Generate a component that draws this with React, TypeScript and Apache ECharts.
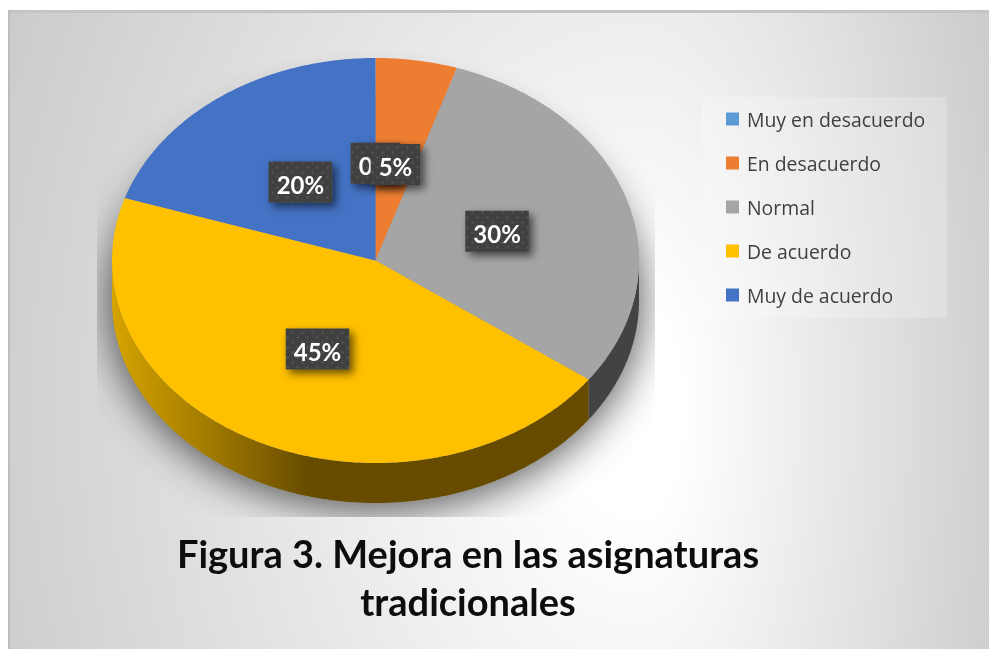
import React, { useEffect, useRef } from "react";
import * as echarts from "echarts";

const categories = ["Muy en desacuerdo", "En desacuerdo", "Normal", "De acuerdo", "Muy de acuerdo"];
const percentages = [0, 5, 30, 45, 20];
const faceColors = ["#5B9BD5", "#ED7D31", "#A5A5A5", "#FFC000", "#4472C4"];
const sideColors = ["#2E5F8C", "#8A4A1C", "#434343", "#664B00", "#2A4678"];
const titleText = "Figura 3. Mejora en las asignaturas\ntradicionales";

const CX = 375.5, CY = 260.5, RX = 263.5, RY = 202.5, DEPTH = 40;
const LABEL_FONT = "bold 24px Lato";
const BOX_H = 41;

const total = percentages.reduce((a, b) => a + b, 0);
const rad = (deg: number) => (deg * Math.PI) / 180;
const pt = (deg: number, f = 1, dy = 0): number[] => [
  CX + RX * f * Math.sin(rad(deg)),
  CY - RY * f * Math.cos(rad(deg)) + dy,
];
const arc = (from: number, to: number, dy = 0): number[][] => {
  const out: number[][] = [];
  const n = Math.max(1, Math.ceil((to - from) / 0.5));
  for (let i = 0; i <= n; i++) out.push(pt(from + ((to - from) * i) / n, 1, dy));
  return out;
};

const measure = (s: string): number => {
  const c = document.createElement("canvas").getContext("2d");
  if (!c) return s.length * 13;
  c.font = LABEL_FONT;
  return c.measureText(s).width;
};

const dots =
  "data:image/svg+xml;utf8," +
  encodeURIComponent(
    '<svg xmlns="http://www.w3.org/2000/svg" width="10" height="10"><circle cx="2.5" cy="2.5" r="1.2" fill="#535353"/><circle cx="7.5" cy="7.5" r="1.2" fill="#535353"/></svg>'
  );

const startOf = (idx: number) => (percentages.slice(0, idx).reduce((a, b) => a + b, 0) / total) * 360;

const sliceRender = (idx: number) => (_p: any, api: any) => {
  const a0 = startOf(idx);
  const a1 = a0 + (api.value(0) / total) * 360;
  const children: any[] = [];
  const s0 = Math.max(a0, 90), s1 = Math.min(a1, 270);
  if (s1 > s0) {
    const upper = arc(s0, s1);
    const lower = arc(s0, s1, DEPTH).reverse();
    const fill =
      idx === 3
        ? new echarts.graphic.LinearGradient(CX - RX, 0, 310, 0, [
            { offset: 0, color: "#D6A300" },
            { offset: 0.45, color: "#A67E00" },
            { offset: 1, color: sideColors[idx] },
          ], true)
        : sideColors[idx];
    children.push({ type: "polygon", shape: { points: upper.concat(lower) }, style: { fill } });
  }
  if (a1 > a0) {
    children.push({
      type: "polygon",
      shape: { points: [[CX, CY] as number[]].concat(arc(a0, a1)) },
      style: { fill: faceColors[idx] },
    });
  }
  const mid = (a0 + a1) / 2;
  const [lx, ly0] = pt(mid, 0.485);
  const ly = ly0 + 1;
  const txt = `${api.value(0)}%`;
  const w = measure(txt) + 16;
  const bx = lx - w / 2, by = ly - BOX_H / 2;
  const z2 = 20 + idx * 3;
  children.push({
    type: "rect", z2,
    shape: { x: bx, y: by, width: w, height: BOX_H },
    style: { fill: "#404040", shadowBlur: 9, shadowColor: "rgba(0,0,0,0.6)", shadowOffsetX: 4, shadowOffsetY: 4 },
  });
  children.push({
    type: "rect", z2: z2 + 1,
    shape: { x: bx, y: by, width: w, height: BOX_H },
    style: { fill: { image: dots, repeat: "repeat", imageWidth: 10, imageHeight: 10 } },
  });
  children.push({
    type: "text", z2: z2 + 2,
    x: lx, y: ly + 2,
    style: { text: txt, fill: "#FFFFFF", font: LABEL_FONT, align: "center", verticalAlign: "middle" },
  });
  return { type: "group", children };
};

const shadowEllipse = () => ({
  type: "ellipse",
  shape: { cx: CX, cy: CY + 38, rx: RX - 1, ry: RY + 2 },
  style: { fill: "#999999", shadowBlur: 44, shadowColor: "rgba(0,0,0,0.42)", shadowOffsetY: 3 },
});
const shadowRender = () => ({
  type: "group",
  clipPath: { type: "rect", shape: { x: 97, y: 30, width: 558, height: 487 } },
  children: [shadowEllipse(), shadowEllipse()],
});

const GX = 640, GY = 410, LEFT_R = 630, RIGHT_R = 350, TOP_R = 860;
const bgStops = [
  { offset: 0, color: "#FFFFFF" },
  { offset: 0.08, color: "#FFFFFF" },
  { offset: 0.667, color: "#D0D0D0" },
  { offset: 1, color: "#BABABA" },
];
const bgPanel = (x0: number, x1: number, radius: number) => {
  const sx = radius / LEFT_R, sy = TOP_R / LEFT_R;
  return {
    type: "rect", z: -10, silent: true,
    x: GX, y: GY, scaleX: sx, scaleY: sy,
    shape: { x: (x0 - GX) / sx, y: (10 - GY) / sy, width: (x1 - x0) / sx, height: 639 / sy },
    style: { fill: new echarts.graphic.RadialGradient(0, 0, LEFT_R * 1.5, bgStops, true) },
  };
};

export default function App() {
  const ref = useRef<HTMLDivElement>(null);
  useEffect(() => {
    if (!ref.current) return;
    const chart = echarts.init(ref.current, null, { renderer: "svg" });
    chart.setOption({
      animation: false,
      graphic: [
        bgPanel(8, GX + 1, LEFT_R),
        bgPanel(GX, 989, RIGHT_R),
        { type: "line", z: -9, shape: { x1: 8, y1: 11.5, x2: 989, y2: 11.5 }, style: { stroke: "#C4C4C4", lineWidth: 3 } },
        { type: "line", z: -9, shape: { x1: 9, y1: 10, x2: 9, y2: 649 }, style: { stroke: "#BDBDBD", lineWidth: 2 } },
      ],
      title: {
        text: titleText,
        left: 463, top: 524, textAlign: "center",
        textStyle: { fontFamily: "Lato", fontWeight: "bold", fontSize: 38, lineHeight: 48, color: "#0D0D0D" },
      },
      legend: {
        data: categories,
        orient: "vertical",
        left: 702, top: 97,
        padding: [12, 22, 13, 24],
        backgroundColor: "rgba(255,255,255,0.22)",
        icon: "rect",
        itemWidth: 13, itemHeight: 13, itemGap: 24,
        selectedMode: false,
        textStyle: { fontFamily: "Open Sans", fontSize: 19.4, color: "#404040", lineHeight: 20, padding: [0, 0, 0, 3] },
      },
      series: [
        { type: "custom", coordinateSystem: "none", silent: true, renderItem: shadowRender, data: [[0]] },
        ...categories.map((name, i) => ({
          type: "custom",
          name,
          coordinateSystem: "none",
          silent: true,
          itemStyle: { color: faceColors[i] },
          renderItem: sliceRender(i),
          data: [[percentages[i]]],
        })),
      ],
    });
    return () => chart.dispose();
  }, []);
  return <div ref={ref} style={{ position: "fixed", left: 0, top: 0, width: 989, height: 649 }} />;
}
